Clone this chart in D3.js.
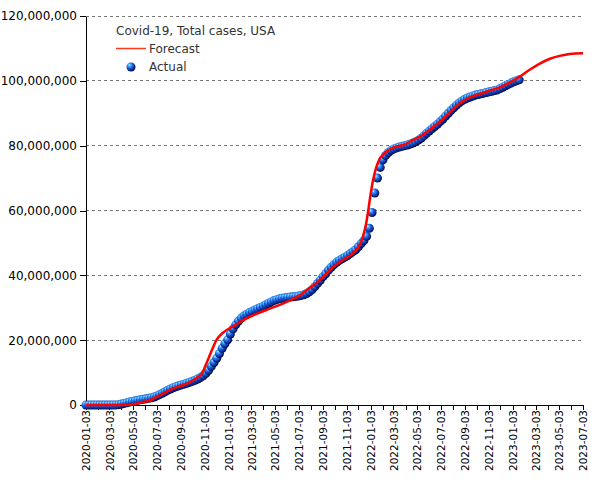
<!DOCTYPE html>
<html>
<head>
<meta charset="utf-8">
<script src="https://cdn.jsdelivr.net/npm/d3@7"></script>
<style>
  html, body { margin: 0; padding: 0; background: #fff; }
  svg { display: block; font-family: "DejaVu Sans", sans-serif; }
</style>
</head>
<body>
<svg id="chart" width="605" height="480"></svg>
<script>
// ---------------- DATA ----------------
const chartTitle = "Covid-19, Total cases, USA";
const seriesNames = ["Forecast", "Actual"];

// Actual: weekly observations (millions of total cases), first on 2020-01-03
const actualStart = "2020-01-03";
const actualValues = [
  // 2020
  0, 0, 0, 0, 0, 0, 0, 0, 0, 0.0003, 0.0025, 0.019, 0.10,
  0.27, 0.50, 0.71, 0.91, 1.10, 1.28, 1.45, 1.60, 1.75,
  1.90, 2.05, 2.23, 2.48, 2.80, 3.18, 3.62, 4.07, 4.55,
  4.95, 5.32, 5.63, 5.90, 6.19, 6.43, 6.70, 7.00,
  7.30, 7.64, 8.02, 8.48, 9.03, 9.75, 10.7, 11.9, 13.1,
  14.4, 15.9, 17.5, 18.9,
  // 2021
  20.1, 21.9, 23.5, 24.8, 25.9, 26.8, 27.5, 28.0, 28.5,
  28.9, 29.3, 29.7, 30.1, 30.5, 30.95, 31.4, 31.8, 32.2,
  32.5, 32.75, 32.95, 33.1, 33.2, 33.3, 33.4, 33.5,
  33.6, 33.8, 34.0, 34.4, 34.9, 35.6, 36.5, 37.5, 38.5,
  39.6, 40.5, 41.6, 42.5, 43.3, 44.0, 44.6, 45.1, 45.6,
  46.1, 46.7, 47.3, 47.9, 48.8, 49.8, 50.7, 52.0, 54.5,
  // 2022
  59.4, 65.4, 70.0, 73.3, 75.6, 77.0, 77.9, 78.6,
  79.0, 79.3, 79.6, 79.8, 80.0, 80.2, 80.5, 80.8, 81.2,
  81.7, 82.3, 83.0, 83.8, 84.5, 85.2, 85.9, 86.6,
  87.4, 88.2, 89.1, 90.0, 90.9, 91.7, 92.5, 93.2, 93.8,
  94.3, 94.7, 95.0, 95.3, 95.6, 95.8, 96.0, 96.2, 96.4,
  96.6, 96.8, 97.0, 97.2, 97.6, 98.0, 98.5, 98.9, 99.3,
  // 2023
  99.7, 100.0, 100.3
];

// Forecast: model curve (millions of total cases)
const forecastDates = [
  "2020-01-03","2020-02-03","2020-03-03","2020-04-03","2020-04-25","2020-05-15",
  "2020-06-01","2020-06-20","2020-07-05","2020-07-20","2020-08-05","2020-08-25",
  "2020-09-15","2020-10-01","2020-10-15","2020-10-28","2020-11-08","2020-11-20",
  "2020-12-03","2020-12-20","2021-01-05","2021-01-20","2021-02-10","2021-03-10",
  "2021-04-10","2021-05-15","2021-06-10","2021-07-06","2021-07-20","2021-08-10",
  "2021-09-04","2021-09-30","2021-10-25","2021-11-20","2021-12-07","2021-12-16",
  "2021-12-22","2021-12-27","2022-01-02","2022-01-09","2022-01-17","2022-01-25",
  "2022-02-05","2022-02-27","2022-04-01","2022-04-20","2022-05-10","2022-06-04",
  "2022-06-30","2022-07-26","2022-08-20","2022-09-15","2022-10-11","2022-11-06",
  "2022-12-01","2022-12-27","2023-01-22","2023-02-16","2023-03-14","2023-04-09",
  "2023-05-04","2023-05-30","2023-07-03"
];
const forecastValues = [
  0, 0, 0, 0, 0.05, 0.5,
  1.0, 1.7, 2.7, 3.6, 4.6, 5.6,
  6.4, 7.4, 8.5, 10.0, 13.0, 16.5,
  20.0, 22.3, 23.6, 24.6, 26.2, 27.8,
  29.3, 30.9, 32.3, 33.9, 35.2, 37.0,
  39.6, 42.6, 44.8, 46.9, 49.6, 52.5,
  55.5, 59.0, 64.0, 69.0, 73.0, 75.6,
  77.4, 79.2, 80.4, 81.6, 82.8, 84.9,
  87.4, 90.2, 93.0, 94.9, 96.0, 97.0,
  98.0, 99.5, 101.3, 103.4, 105.3, 106.8,
  107.7, 108.3, 108.5
];

// Axis extents / tick labels
const xDomain = ["2020-01-03", "2023-07-03"];
const xTickLabels = [
  "2020-01-03","2020-03-03","2020-05-03","2020-07-03","2020-09-03","2020-11-03",
  "2021-01-03","2021-03-03","2021-05-03","2021-07-03","2021-09-03","2021-11-03",
  "2022-01-03","2022-03-03","2022-05-03","2022-07-03","2022-09-03","2022-11-03",
  "2023-01-03","2023-03-03","2023-05-03","2023-07-03"
];
const yTickValues = [0, 20000000, 40000000, 60000000, 80000000, 100000000, 120000000];

// ---------------- CHART ----------------
const parse = d3.utcParse("%Y-%m-%d");
const fmtDate = d3.utcFormat("%Y-%m-%d");
const svg = d3.select("#chart");

const mLeft = 86, mRight = 583, mTop = 16, mBottom = 405;

const x = d3.scaleUtc().domain(xDomain.map(parse)).range([mLeft, mRight]);
const y = d3.scaleLinear().domain([0, 120000000]).range([mBottom, mTop]);

const start = parse(actualStart);
const actual = actualValues.map((v, i) => ({ date: d3.utcDay.offset(start, 7 * i), value: v * 1e6 }));
const forecast = forecastDates.map((d, i) => ({ date: parse(d), value: forecastValues[i] * 1e6 }));

// gradient for sphere markers
const defs = svg.append("defs");
const grad = defs.append("radialGradient").attr("id", "sphere")
  .attr("cx", "40%").attr("cy", "38%").attr("r", "62%").attr("fx", "32%").attr("fy", "26%");
grad.append("stop").attr("offset", "0%").attr("stop-color", "#d6f4ff");
grad.append("stop").attr("offset", "22%").attr("stop-color", "#45b0ff");
grad.append("stop").attr("offset", "55%").attr("stop-color", "#1a5ad6");
grad.append("stop").attr("offset", "85%").attr("stop-color", "#0b2488");
grad.append("stop").attr("offset", "100%").attr("stop-color", "#020a3a");

// gridlines
svg.append("g").selectAll("line")
  .data(yTickValues.filter(v => v > 0))
  .join("line")
  .attr("x1", mLeft).attr("x2", mRight)
  .attr("y1", d => y(d)).attr("y2", d => y(d))
  .attr("stroke", "#777").attr("stroke-width", 1)
  .attr("stroke-dasharray", "3,3")
  .attr("shape-rendering", "crispEdges");

// x axis: monthly minor ticks, labelled every 2 months
const monthTicks = d3.utcMonth.range(d3.utcMonth.floor(x.domain()[0]), d3.utcMonth.offset(x.domain()[1], 1))
  .map(d => d3.utcDay.offset(d, 2))
  .filter(d => d >= x.domain()[0] && d <= x.domain()[1]);
const labelSet = new Set(xTickLabels);

const xAxis = svg.append("g")
  .attr("transform", `translate(0,${mBottom})`)
  .call(d3.axisBottom(x).tickValues(monthTicks).tickSize(5).tickSizeOuter(0)
    .tickFormat(d => labelSet.has(fmtDate(d)) ? fmtDate(d) : ""));
xAxis.select(".domain").attr("stroke", "#000").attr("shape-rendering", "crispEdges");
xAxis.selectAll(".tick line").attr("stroke", "#000").attr("shape-rendering", "crispEdges");
xAxis.selectAll(".tick text")
  .attr("transform", "rotate(-90)")
  .attr("text-anchor", "end")
  .attr("x", -5).attr("y", 0).attr("dy", "0.35em")
  .attr("font-size", "10.5px")
  .attr("font-family", "DejaVu Sans, sans-serif")
  .attr("fill", "#000");

// y axis
const yAxis = svg.append("g")
  .attr("transform", `translate(${mLeft},0)`)
  .call(d3.axisLeft(y).tickValues(yTickValues).tickSize(6).tickSizeOuter(0).tickPadding(3)
    .tickFormat(d3.format(",")));
yAxis.select(".domain").attr("stroke", "#000").attr("shape-rendering", "crispEdges");
yAxis.selectAll(".tick line").attr("stroke", "#000").attr("shape-rendering", "crispEdges");
yAxis.selectAll(".tick text")
  .attr("font-size", "12px")
  .attr("font-family", "DejaVu Sans, sans-serif")
  .attr("fill", "#000");

// actual points
svg.append("g").selectAll("circle")
  .data(actual)
  .join("circle")
  .attr("cx", d => x(d.date))
  .attr("cy", d => y(d.value))
  .attr("r", 4.5)
  .attr("fill", "url(#sphere)");

// forecast line
svg.append("path")
  .datum(forecast)
  .attr("fill", "none")
  .attr("stroke", "#ff0000")
  .attr("stroke-width", 2.5)
  .attr("d", d3.line().x(d => x(d.date)).y(d => y(d.value)).curve(d3.curveMonotoneX));

// legend
const lg = svg.append("g").attr("font-family", "DejaVu Sans, sans-serif").attr("font-size", "12px").attr("fill", "#333");
lg.append("text").attr("x", 116).attr("y", 35).text(chartTitle);
lg.append("line").attr("x1", 116).attr("x2", 146).attr("y1", 48.5).attr("y2", 48.5)
  .attr("stroke", "#ff3a1a").attr("stroke-width", 1.5);
lg.append("text").attr("x", 149).attr("y", 53).text(seriesNames[0]);
lg.append("circle").attr("cx", 131).attr("cy", 67).attr("r", 4.5).attr("fill", "url(#sphere)");
lg.append("text").attr("x", 149).attr("y", 71).text(seriesNames[1]);
</script>
</body>
</html>
